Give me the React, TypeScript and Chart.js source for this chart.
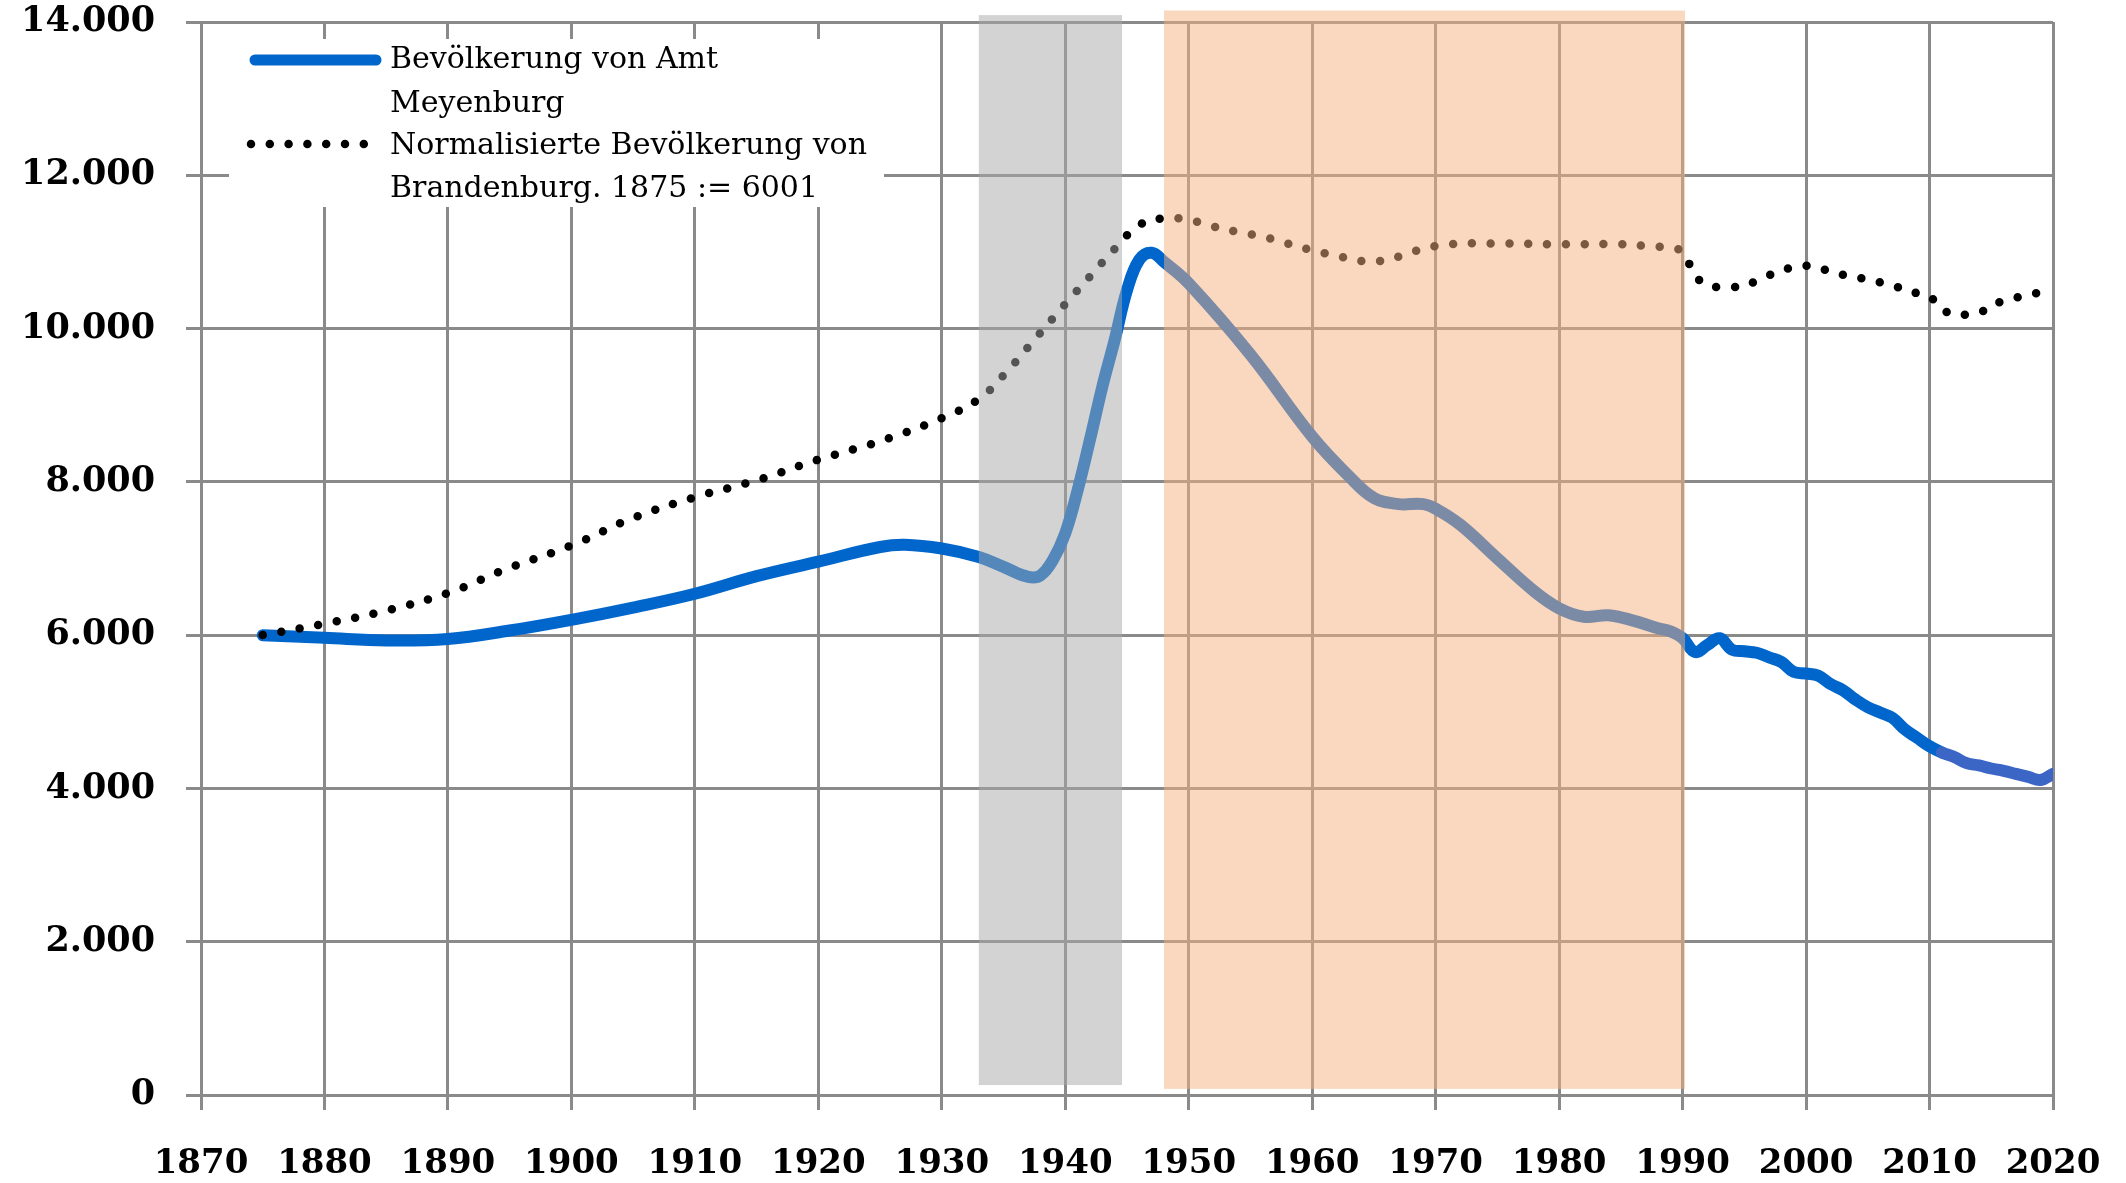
import React, { useEffect, useRef } from 'react';
import { Chart, registerables } from 'chart.js';

Chart.register(...registerables);

// Bevölkerung von Amt Meyenburg
const amtYears = [
  1875, 1880, 1885, 1890, 1895, 1900, 1905, 1910, 1915, 1920, 1925, 1927, 1930, 1933, 1935, 1937,
  1938, 1939, 1940, 1941, 1942, 1943, 1944, 1945, 1946, 1947, 1948, 1950, 1955, 1960, 1963, 1965,
  1967, 1969, 1970, 1972, 1975, 1978, 1980, 1982, 1984, 1986, 1988, 1989, 1990, 1991, 1992, 1993,
  1994, 1995, 1996, 1997, 1998, 1999, 2000, 2001, 2002, 2003, 2004, 2005, 2006, 2007, 2008, 2009,
  2010, 2011, 2012, 2013, 2014, 2015, 2016, 2017, 2018, 2019, 2020,
];
const amtValues = [
  6000, 5965, 5930, 5950, 6060, 6200, 6360, 6540, 6770, 6960, 7150, 7180, 7130, 7020, 6890, 6760,
  6780, 6980, 7330, 7890, 8550, 9240, 9850, 10500, 10900, 10990, 10870, 10590, 9660, 8590, 8070, 7790,
  7710, 7710, 7650, 7440, 7000, 6570, 6350, 6240, 6260, 6190, 6090, 6050, 5960, 5780, 5870, 5960,
  5810, 5790, 5770, 5710, 5650, 5520, 5500, 5470, 5360, 5280, 5160, 5060, 4990, 4920, 4770, 4660,
  4550, 4470, 4410, 4330, 4300, 4260, 4230, 4190, 4150, 4110, 4190,
];

// Normalisierte Bevölkerung von Brandenburg, 1875 := 6001
const brbYears = [
  1875, 1880, 1885, 1890, 1895, 1900, 1905, 1910, 1915, 1920, 1925, 1930, 1933, 1935, 1937, 1940,
  1942, 1944, 1946, 1948, 1950, 1952, 1954, 1956, 1958, 1960, 1962, 1964, 1966, 1967, 1969, 1971,
  1975, 1980, 1985, 1987, 1989, 1990, 1991, 1992, 1994, 1995, 1996, 1998, 2000, 2001, 2003, 2005,
  2007, 2009, 2010, 2011, 2012, 2013, 2014, 2015, 2016, 2018, 2020,
];
const brbValues = [
  6001, 6150, 6320, 6550, 6880, 7170, 7530, 7800, 8020, 8290, 8530, 8830, 9080, 9390, 9760, 10320,
  10680, 11040, 11350, 11440, 11420, 11330, 11260, 11200, 11110, 11020, 10950, 10880, 10890, 10940, 11040, 11100,
  11110, 11100, 11100, 11080, 11050, 11000, 10700, 10570, 10540, 10570, 10620, 10760, 10820, 10790, 10700, 10640,
  10560, 10460, 10420, 10250, 10190, 10180, 10200, 10300, 10360, 10440, 10500,
];

const legendLines = [
  ['Bevölkerung von Amt', 'Meyenburg'],
  ['Normalisierte Bevölkerung von', 'Brandenburg. 1875 := 6001'],
];

// shaded periods (years)
const bandFrom = [1933, 1948];
const bandTo = [1944.6, 1990.2];

const xMin = 1870;
const xMax = 2020;
const xStep = 10;
const yMin = 0;
const yMax = 14000;
const yStep = 2000;

const BLUE = '#0066CC';
const BLUE_LATE = '#3C66C6';
const GRID = '#8a8a8a';
const FONT = '"DejaVu Serif", serif';

function fmtDe(v: number): string {
  return String(Math.round(v)).replace(/\B(?=(\d{3})+(?!\d))/g, '.');
}

const overlayPlugin = {
  id: 'overlayBandsLegend',
  afterDatasetsDraw(chart: any) {
    const { ctx, scales, chartArea } = chart;
    const x = scales.x;
    const y = scales.y;
    ctx.save();
    const bandFill = ['rgba(168,168,168,0.5)', 'rgba(246,176,128,0.5)'];
    const bandTop = [14090, 14150];
    const bandBottom = [130, 80];
    for (let i = 0; i < bandFrom.length; i++) {
      const x0 = x.getPixelForValue(bandFrom[i]);
      const x1 = x.getPixelForValue(bandTo[i]);
      const y0 = y.getPixelForValue(bandTop[i]);
      const y1 = y.getPixelForValue(bandBottom[i]);
      ctx.fillStyle = bandFill[i];
      ctx.fillRect(x0, y0, x1 - x0, y1 - y0);
    }
    const L = chartArea.left;
    const T = chartArea.top;
    ctx.fillStyle = '#ffffff';
    ctx.fillRect(L + 28, T + 17, 655, 168);
    ctx.strokeStyle = BLUE;
    ctx.lineWidth = 11;
    ctx.lineCap = 'round';
    ctx.beginPath();
    ctx.moveTo(L + 54, T + 38);
    ctx.lineTo(L + 175, T + 38);
    ctx.stroke();
    ctx.strokeStyle = '#000000';
    ctx.lineWidth = 8.5;
    ctx.setLineDash([0, 18.8]);
    ctx.beginPath();
    ctx.moveTo(L + 50, T + 122);
    ctx.lineTo(L + 172, T + 122);
    ctx.stroke();
    ctx.setLineDash([]);
    ctx.fillStyle = '#000000';
    ctx.font = `30px ${FONT}`;
    ctx.textAlign = 'left';
    ctx.textBaseline = 'alphabetic';
    const tx = L + 189;
    ctx.fillText(legendLines[0][0], tx, T + 46);
    ctx.fillText(legendLines[0][1], tx, T + 90);
    ctx.fillText(legendLines[1][0], tx, T + 132);
    ctx.fillText(legendLines[1][1], tx, T + 175);
    ctx.restore();
  },
};

export default function App() {
  const ref = useRef<HTMLCanvasElement | null>(null);

  useEffect(() => {
    if (!ref.current) return;
    const amtData = amtYears.map((yr, i) => ({ x: yr, y: amtValues[i] }));
    const brbData = brbYears.map((yr, i) => ({ x: yr, y: brbValues[i] }));
    const chart = new Chart(ref.current, {
      type: 'line',
      data: {
        datasets: [
          {
            label: legendLines[1].join(' '),
            data: brbData,
            borderColor: '#000000',
            borderWidth: 8.5,
            borderDash: [0, 18.8],
            borderCapStyle: 'round',
            pointRadius: 0,
            tension: 0.4,
            fill: false,
            order: 0,
          },
          {
            label: legendLines[0].join(' '),
            data: amtData,
            borderColor: BLUE,
            borderWidth: 12,
            borderCapStyle: 'round',
            borderJoinStyle: 'round',
            pointRadius: 0,
            tension: 0.4,
            fill: false,
            order: 1,
            segment: {
              borderColor: (c: any) => (c.p0.parsed.x >= 2010.5 ? BLUE_LATE : BLUE),
            },
          },
        ],
      },
      options: {
        animation: false,
        responsive: false,
        devicePixelRatio: 1,
        layout: { autoPadding: false, padding: { left: 0, top: 22, right: 73, bottom: 0 } },
        plugins: {
          legend: { display: false },
          tooltip: { enabled: false },
          title: { display: false },
        },
        scales: {
          x: {
            type: 'linear',
            min: xMin,
            max: xMax,
            border: { display: false },
            grid: { color: GRID, lineWidth: 3, tickLength: 15, drawTicks: true },
            ticks: {
              stepSize: xStep,
              autoSkip: false,
              maxRotation: 0,
              padding: 34,
              color: '#000000',
              font: { family: FONT, size: 34, weight: 'bold' },
              callback: (v: any) => String(v),
            },
            afterFit: (s: any) => {
              s.height = 88;
              s.paddingLeft = 0;
              s.paddingRight = 0;
            },
          },
          y: {
            type: 'linear',
            min: yMin,
            max: yMax,
            border: { display: false },
            grid: { color: GRID, lineWidth: 3, tickLength: 15, drawTicks: true },
            ticks: {
              stepSize: yStep,
              padding: 31,
              color: '#000000',
              font: { family: FONT, size: 35, weight: 'bold' },
              callback: (v: any) => fmtDe(Number(v)),
            },
            afterFit: (s: any) => {
              s.width = 201;
              s.paddingTop = 0;
              s.paddingBottom = 0;
            },
          },
        },
      },
      plugins: [overlayPlugin],
    } as any);
    return () => chart.destroy();
  }, []);

  return (
    <div style={{ position: 'fixed', left: 0, top: 0, width: 2126, height: 1183, background: '#ffffff' }}>
      <canvas ref={ref} width={2126} height={1183} style={{ width: 2126, height: 1183, display: 'block' }} />
    </div>
  );
}
